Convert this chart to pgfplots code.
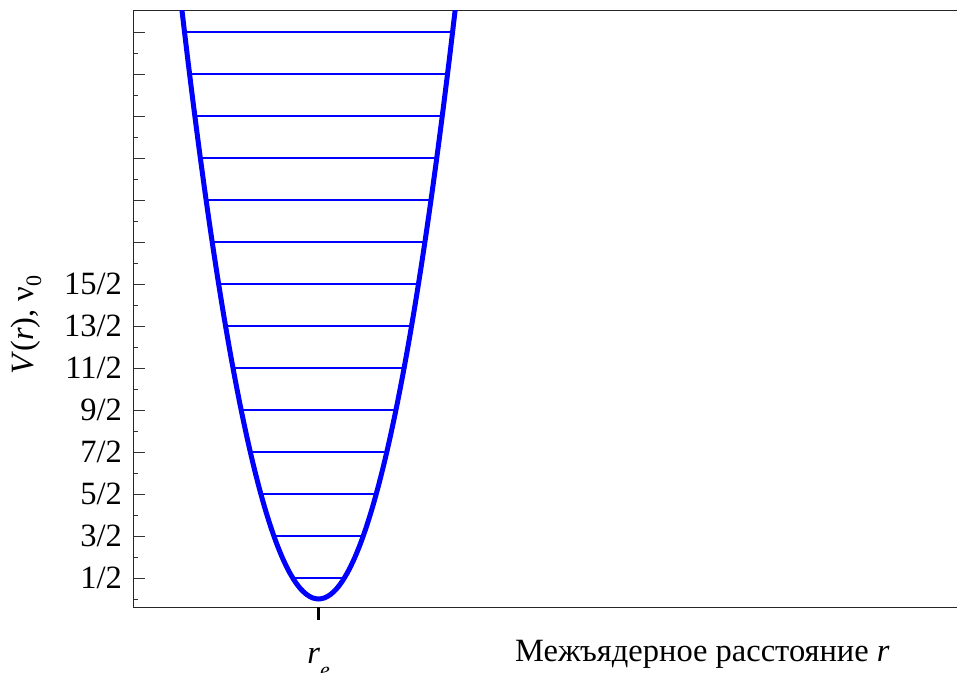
\documentclass[border=0pt]{standalone}
\usepackage{pgfplots}
\pgfplotsset{compat=1.18}
\usepackage{fontspec}
\setmainfont{Liberation Serif}
\begin{document}
\fontsize{32.5bp}{38bp}\selectfont
\begin{tikzpicture}
\useasboundingbox (0,0) rectangle (957bp,673bp);
\begin{axis}[
  at={(133bp,66bp)}, anchor=south west,
  scale only axis, width=835.8bp, height=596bp,
  xmin=0, xmax=35, ymin=-0.1905, ymax=14,
  xtick=\empty,
  minor xtick={1,2,3,4,5,6,7,8,9,10,11,12,13,14,15,16,17,18,19,20,21,22,23,24,25,26,27,28,29,30,31,32,33,34},
  ytick={0.5,1.5,2.5,3.5,4.5,5.5,6.5,7.5,8.5,9.5,10.5,11.5,12.5,13.5},
  yticklabels={1/2,3/2,5/2,7/2,9/2,11/2,13/2,15/2,,,,,,},
  minor ytick={0,1,2,3,4,5,6,7,8,9,10,11,12,13},
  ytick pos=left,
  tick align=inside,
  major tick length=12bp, minor tick length=5bp,
  every tick/.style={black!80, line width=0.8bp},
  axis line style={line width=1bp, black!85},
  clip mode=individual,
  level/.style={draw=blue, color=blue, line width=1.2bp, no marks},
]
% vibrational levels
\addplot[level] coordinates {(6.69,0.5) (8.85,0.5)};
\addplot[level] coordinates {(5.90,1.5) (9.64,1.5)};
\addplot[level] coordinates {(5.35,2.5) (10.19,2.5)};
\addplot[level] coordinates {(4.91,3.5) (10.63,3.5)};
\addplot[level] coordinates {(4.53,4.5) (11.01,4.5)};
\addplot[level] coordinates {(4.19,5.5) (11.35,5.5)};
\addplot[level] coordinates {(3.88,6.5) (11.66,6.5)};
\addplot[level] coordinates {(3.59,7.5) (11.95,7.5)};
\addplot[level] coordinates {(3.32,8.5) (12.22,8.5)};
\addplot[level] coordinates {(3.06,9.5) (12.48,9.5)};
\addplot[level] coordinates {(2.82,10.5) (12.72,10.5)};
\addplot[level] coordinates {(2.59,11.5) (12.95,11.5)};
\addplot[level] coordinates {(2.37,12.5) (13.17,12.5)};
\addplot[level] coordinates {(2.16,13.5) (13.38,13.5)};
% potential curve
\addplot[draw=blue, line width=5bp, smooth, no marks] coordinates {
(1.77,15.426) (2.02,14.167) (2.27,12.962) (2.52,11.811) (2.77,10.713)
(3.02,9.668) (3.27,8.677) (3.52,7.740) (3.77,6.856) (4.02,6.026)
(4.27,5.249) (4.52,4.526) (4.77,3.857) (5.02,3.241) (5.27,2.678)
(5.52,2.169) (5.77,1.714) (6.02,1.312) (6.27,0.964) (6.52,0.670)
(6.77,0.4285) (7.02,0.241) (7.27,0.107) (7.52,0.0268) (7.77,0)
(8.02,0.0268) (8.27,0.107) (8.52,0.241) (8.77,0.4285) (9.02,0.670)
(9.27,0.964) (9.52,1.312) (9.77,1.714) (10.02,2.169) (10.27,2.678)
(10.52,3.241) (10.77,3.857) (11.02,4.526) (11.27,5.249) (11.52,6.026)
(11.77,6.856) (12.02,7.740) (12.27,8.677) (12.52,9.668) (12.77,10.713)
(13.02,11.811) (13.27,12.962) (13.52,14.167) (13.77,15.426)};
\draw[black, line width=2.6bp] (axis cs:7.77,-0.1905) -- ++(0,-21bp);
\node[anchor=base, yshift=-56bp] at (axis cs:7.77,-0.1905) {\textit{r}\raisebox{-0.45em}{\fontsize{22bp}{24bp}\selectfont\textit{e}}};
\end{axis}
\node[rotate=90, anchor=base] at (33bp,348bp) {\textit{V}(\textit{r}), ν\raisebox{-0.25em}{\fontsize{22bp}{24bp}\selectfont 0}};
\node[anchor=base west, inner sep=0pt] at (515bp,12bp) {Межъядерное расстояние \textit{r}};
\end{tikzpicture}
\end{document}
